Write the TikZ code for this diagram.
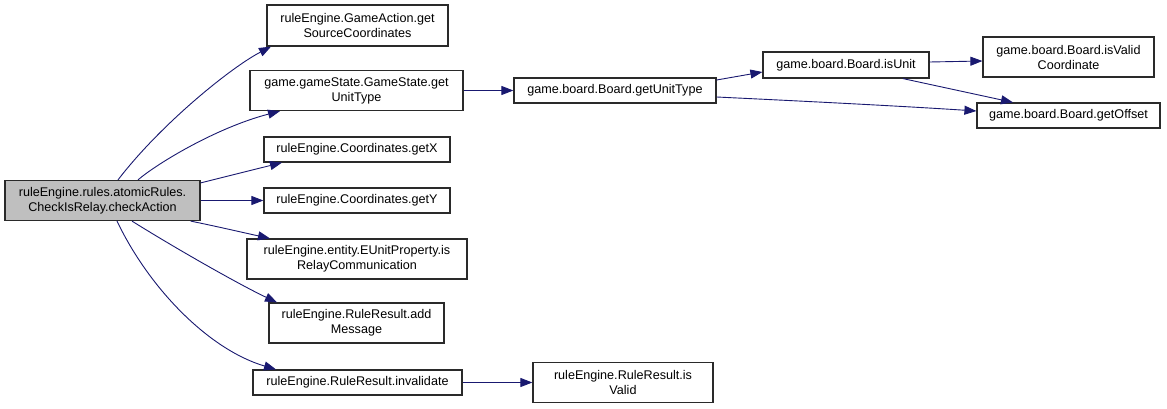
\documentclass[tikz,border=0pt]{standalone}
\usepackage{fontspec}
\setmainfont{Liberation Sans}
\usetikzlibrary{arrows.meta}
\definecolor{edgecol}{HTML}{191970}
\definecolor{boxline}{HTML}{2A2A2A}
\definecolor{rootfill}{HTML}{BFBFBF}
\tikzset{
  fn/.style={draw=boxline, fill=white, line width=1.2pt, inner sep=0pt, align=center,
    font=\fontsize{12.6}{15}\selectfont, text=black},
  rootfn/.style={fn, fill=rootfill},
  call/.style={draw=edgecol, line width=0.9pt, -{Triangle[length=12pt,width=9pt]}}
}
\begin{document}
\begin{tikzpicture}[x=1pt,y=-1pt]
\useasboundingbox (0,0) rectangle (1167,409);
% nodes
\node[rootfn, minimum width=195pt, minimum height=40pt] (root) at (102.5,200.5) {ruleEngine.rules.atomicRules.\\CheckIsRelay.checkAction};
\node[fn, minimum width=181pt, minimum height=41pt] (src) at (357.5,25.5) {ruleEngine.GameAction.get\\SourceCoordinates};
\node[fn, minimum width=213pt, minimum height=40pt] (gs) at (356.5,90.5) {game.gameState.GameState.get\\UnitType};
\node[fn, minimum width=186pt, minimum height=25pt] (gx) at (357,149.5) {ruleEngine.Coordinates.getX};
\node[fn, minimum width=186pt, minimum height=25pt] (gy) at (357,200.5) {ruleEngine.Coordinates.getY};
\node[fn, minimum width=220pt, minimum height=40pt] (eu) at (357,259) {ruleEngine.entity.EUnitProperty.is\\RelayCommunication};
\node[fn, minimum width=175pt, minimum height=40pt] (am) at (356.5,323) {ruleEngine.RuleResult.add\\Message};
\node[fn, minimum width=209pt, minimum height=25pt] (inv) at (357.5,382.5) {ruleEngine.RuleResult.invalidate};
\node[fn, minimum width=180pt, minimum height=40pt] (iv) at (623,382.5) {ruleEngine.RuleResult.is\\Valid};
\node[fn, minimum width=202pt, minimum height=25pt] (bgut) at (615,90.5) {game.board.Board.getUnitType};
\node[fn, minimum width=166pt, minimum height=26pt] (iu) at (846,65) {game.board.Board.isUnit};
\node[fn, minimum width=171pt, minimum height=40pt] (ivc) at (1068.5,57) {game.board.Board.isValid\\Coordinate};
\node[fn, minimum width=183pt, minimum height=25pt] (go) at (1068.5,115.5) {game.board.Board.getOffset};
% edges
\draw[call] ([xshift=15.5pt]root.north) .. controls (160,125) and (230,68) .. ([xshift=-86.5pt]src.south);
\draw[call] ([xshift=35.5pt]root.north) .. controls (155,165) and (215,128) .. ([xshift=-76.5pt]gs.south);
\draw[call] ([yshift=-3pt]root.north east) -- ([xshift=-75pt]gx.south);
\draw[call] (root.east) -- (gy.west);
\draw[call] ([xshift=-10pt]root.south east) .. controls (215,226) and (245,233) .. ([xshift=-87pt]eu.north);
\draw[call] ([xshift=29.5pt]root.south) .. controls (175,248) and (240,285) .. ([xshift=-79.5pt]am.north);
\draw[call] ([xshift=14.5pt]root.south) .. controls (150,290) and (210,350) .. ([xshift=-81.5pt]inv.north);
\draw[call] (gs.east) -- (bgut.west);
\draw[call] ([yshift=10.5pt]bgut.east) -- ([yshift=-7pt]iu.west);
\draw[call] ([yshift=-6.5pt]bgut.east) .. controls (800,101) and (900,106) .. ([yshift=4.5pt]go.west);
\draw[call] ([yshift=3pt]iu.east) -- ([yshift=-4pt]ivc.west);
\draw[call] ([xshift=57pt]iu.south) -- ([xshift=-55.5pt]go.north);
\draw[call] (inv.east) -- (iv.west);
\end{tikzpicture}
\end{document}
